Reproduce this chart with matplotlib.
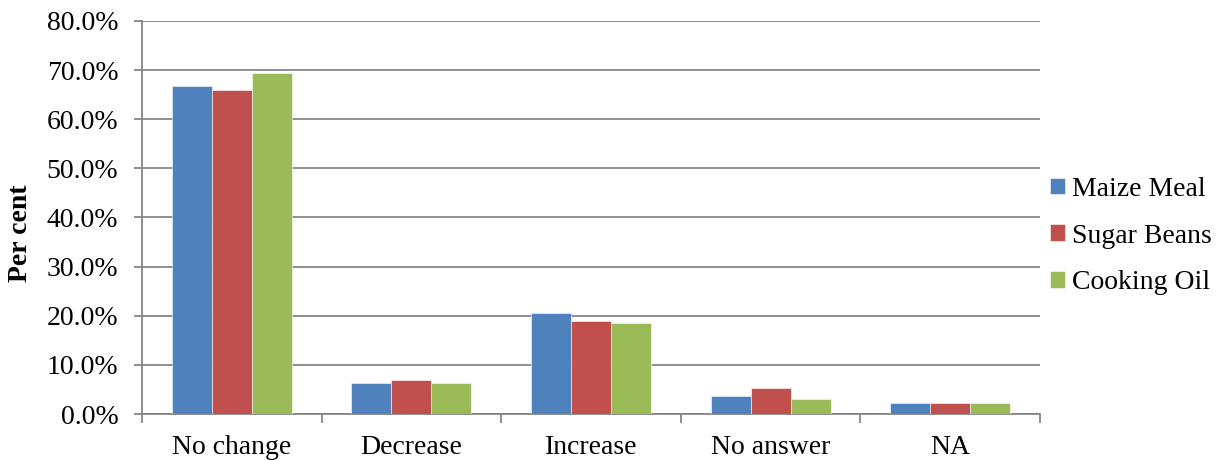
import numpy as np
import matplotlib.pyplot as plt
from matplotlib.ticker import PercentFormatter

plt.rcParams['font.family'] = ['Liberation Serif', 'DejaVu Serif']

# 数据
categories = ['No change', 'Decrease', 'Increase', 'No answer', 'NA']
series_names = ['Maize Meal', 'Sugar Beans', 'Cooking Oil']
maize_meal = [66.7, 6.3, 20.6, 3.6, 2.2]
sugar_beans = [66.0, 7.0, 19.0, 5.3, 2.2]
cooking_oil = [69.4, 6.3, 18.6, 3.0, 2.2]
colors = ['#4f81bd', '#c0504d', '#9bbb59']

W, H = 1219, 461
fig = plt.figure(figsize=(W / 100, H / 100), dpi=100)
ax = fig.add_axes([142 / W, 1 - 414 / H, 898 / W, 393 / H])

x = np.arange(len(categories))
w = 0.223
for i, (name, vals) in enumerate(zip(series_names, [maize_meal, sugar_beans, cooking_oil])):
    ax.bar(x + (i - 1) * w, vals, w, color=colors[i], label=name,
           edgecolor='white', linewidth=0.4, zorder=3)

grid_c = '#868686'
fs = 20
ax.set_ylim(0, 80)
ax.set_xlim(-0.5, len(categories) - 0.5)
ax.set_yticks(np.arange(0, 81, 10))
ax.yaxis.set_major_formatter(PercentFormatter(decimals=1))
ax.yaxis.grid(True, color=grid_c, linewidth=1.3, zorder=0)
ax.set_axisbelow(True)

ax.set_xticks(x)
ax.set_xticklabels(categories)
ax.set_xticks(np.arange(-0.5, len(categories), 1), minor=True)
ax.tick_params(axis='x', which='major', length=0, labelsize=fs, pad=15)
ax.tick_params(axis='x', which='minor', length=6.5, width=1.3, color=grid_c)
ax.tick_params(axis='y', length=6, width=1.3, color=grid_c, labelsize=fs, pad=11)

for s in ['top', 'right']:
    ax.spines[s].set_visible(False)
for s in ['left', 'bottom']:
    ax.spines[s].set_color(grid_c)
    ax.spines[s].set_linewidth(1.3)

ax.set_ylabel('Per cent', fontsize=fs, fontweight='bold')
ax.yaxis.set_label_coords((21 - 142) / 898, 1 - (233 - 21) / 393)
ax.yaxis.label.set_va('center')

ax.legend(loc='center left', bbox_to_anchor=(1.0, 1 - (236 - 21) / 393), frameon=False,
          fontsize=fs, handlelength=0.55, handleheight=0.55, borderpad=0,
          handletextpad=0.25, labelspacing=0.78, borderaxespad=0.35)

fig.savefig('out.png', dpi=100)
